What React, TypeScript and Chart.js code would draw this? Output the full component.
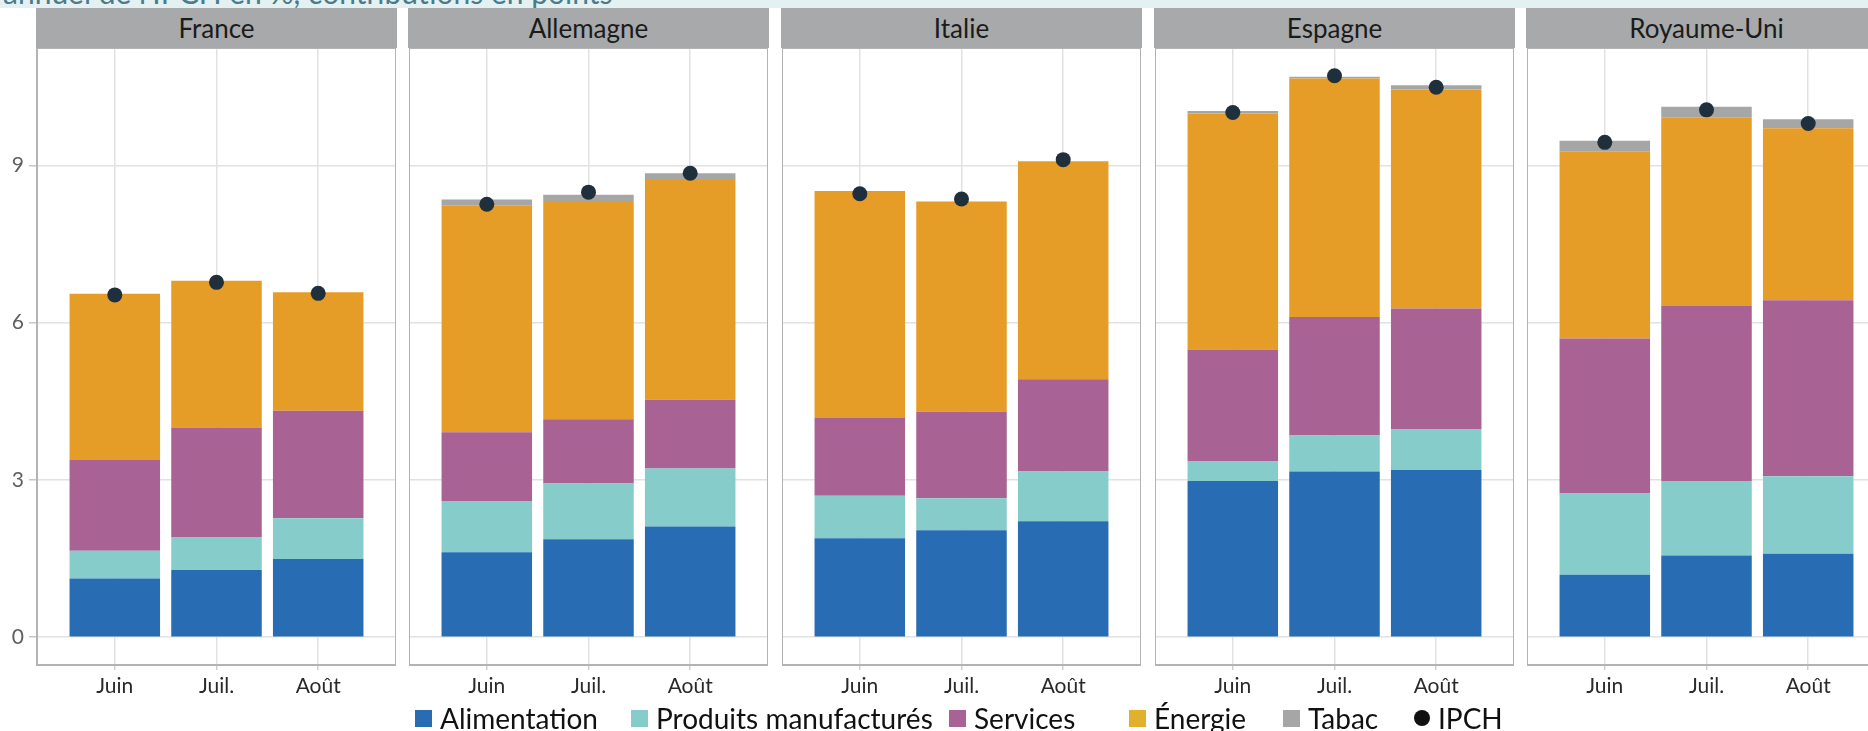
import React, { useEffect, useRef } from 'react';
import { Chart, registerables } from 'chart.js';

Chart.register(...registerables);

// ---------- Data ----------
const countries = ['France', 'Allemagne', 'Italie', 'Espagne', 'Royaume-Uni'];
const months = ['Juin', 'Juil.', 'Août'];
const yTicks = [0, 3, 6, 9];
const seriesNames = ['Alimentation', 'Produits manufacturés', 'Services', 'Énergie', 'Tabac'];
const ipchName = 'IPCH';

// contributions in points, per country (rows) and month (columns)
const alimentation = [
  [1.12, 1.28, 1.49],
  [1.62, 1.87, 2.11],
  [1.89, 2.04, 2.21],
  [2.98, 3.16, 3.19],
  [1.19, 1.56, 1.59],
];
const produits = [
  [0.53, 0.63, 0.78],
  [0.98, 1.06, 1.11],
  [0.81, 0.61, 0.95],
  [0.37, 0.69, 0.78],
  [1.55, 1.42, 1.48],
];
const services = [
  [1.73, 2.09, 2.05],
  [1.31, 1.23, 1.31],
  [1.48, 1.65, 1.76],
  [2.14, 2.26, 2.30],
  [2.96, 3.34, 3.36],
];
const energie = [
  [3.17, 2.80, 2.26],
  [4.32, 4.16, 4.19],
  [4.33, 4.01, 4.16],
  [4.50, 4.55, 4.18],
  [3.56, 3.60, 3.28],
];
const tabac = [
  [0.0, 0.0, 0.0],
  [0.12, 0.12, 0.13],
  [0.0, 0.0, 0.0],
  [0.05, 0.03, 0.08],
  [0.21, 0.20, 0.17],
];
const ipch = [
  [6.53, 6.77, 6.56],
  [8.26, 8.49, 8.85],
  [8.46, 8.36, 9.11],
  [10.01, 10.71, 10.49],
  [9.44, 10.06, 9.80],
];

// ---------- Styles / layout ----------
const seriesValues = [alimentation, produits, services, energie, tabac];
const barColors = ['#286cb4', '#86cccb', '#a96294', '#e69d28', '#a6a6a6'];
const legendColors = ['#286cb4', '#86cccb', '#a96294', '#e2b12c', '#a6a6a6'];
const ipchColor = '#1f303c';
const FONT = 'Lato, "Liberation Sans", sans-serif';

const panelLefts = [37, 409, 782, 1155, 1527];
const panelWidth = 359;
const plotTop = 48;
const plotHeight = 617;
const xAxisHeight = 45;
const yAxisWidth = 37;
const legendSquareLefts = [415, 631, 949, 1129, 1283, 1414];

const panelBorder = {
  id: 'panelBorder',
  afterDraw(chart: any) {
    const { ctx, chartArea: a } = chart;
    ctx.save();
    ctx.strokeStyle = '#b3b3b3';
    ctx.lineWidth = 2;
    ctx.strokeRect(a.left, a.top, a.right - a.left, a.bottom - a.top);
    ctx.restore();
  },
};

function Panel({ index }: { index: number }) {
  const ref = useRef<HTMLCanvasElement | null>(null);
  const first = index === 0;
  const axisW = first ? yAxisWidth : 0;
  const canvasW = panelWidth + axisW;
  const canvasH = plotHeight + xAxisHeight;

  useEffect(() => {
    if (!ref.current) return;
    const barSets = seriesNames.map((name, s) => ({
      type: 'bar' as const,
      label: name,
      data: seriesValues[s][index].map((v, k) => ({ x: k, y: v })),
      backgroundColor: barColors[s],
      borderWidth: 0,
      stack: 'contrib',
      categoryPercentage: 1,
      barPercentage: 0.89,
    }));
    const dotSet = {
      type: 'line' as const,
      label: ipchName,
      data: ipch[index].map((v, k) => ({ x: k, y: v })),
      showLine: false,
      pointRadius: 7.5,
      pointBackgroundColor: ipchColor,
      pointBorderWidth: 0,
      borderColor: ipchColor,
      stack: 'ipch',
      order: -1,
    };
    const chart = new Chart(ref.current, {
      type: 'bar',
      data: { datasets: [...barSets, dotSet] as any },
      options: {
        responsive: false,
        animation: false,
        layout: { padding: 0, autoPadding: false },
        plugins: {
          legend: { display: false },
          tooltip: { enabled: false },
          title: { display: false },
        },
        scales: {
          x: {
            type: 'linear',
            min: -0.765,
            max: 2.765,
            offset: false,
            stacked: true,
            afterBuildTicks: (s: any) => {
              s.ticks = months.map((_, k) => ({ value: k }));
            },
            afterFit: (s: any) => {
              s.height = xAxisHeight;
              s.paddingLeft = 0;
              s.paddingRight = 0;
            },
            ticks: {
              callback: (_v: any, i: number) => months[i],
              font: { family: FONT, size: 21 },
              color: '#2a2a2a',
              padding: 4,
              maxRotation: 0,
              autoSkip: false,
            },
            grid: {
              offset: false,
              color: '#e2e2e2',
              lineWidth: 1.5,
              drawTicks: true,
              tickLength: 5,
              tickColor: '#cfcfcf',
            },
            border: { display: false },
          },
          y: {
            type: 'linear',
            min: -0.53,
            max: 11.24,
            stacked: true,
            afterBuildTicks: (s: any) => {
              s.ticks = yTicks.map((v) => ({ value: v }));
            },
            afterFit: (s: any) => {
              s.width = axisW;
              s.paddingTop = 0;
              s.paddingBottom = 0;
            },
            ticks: {
              display: first,
              font: { family: FONT, size: 21 },
              color: '#606060',
              padding: 5,
            },
            grid: {
              color: '#e2e2e2',
              lineWidth: 1.5,
              drawTicks: first,
              tickLength: 8,
              tickColor: '#c8c8c8',
            },
            border: { display: false },
          },
        },
      } as any,
      plugins: [panelBorder],
    });
    return () => chart.destroy();
  }, [index]);

  const left = panelLefts[index];
  return (
    <>
      <div
        style={{
          position: 'absolute',
          left: left - 1,
          top: 8,
          width: panelWidth + 2,
          height: plotTop - 8,
          background: '#a7a9aa',
          color: '#1b1b1b',
          fontFamily: FONT,
          fontSize: 26,
          display: 'flex',
          alignItems: 'center',
          justifyContent: 'center',
          whiteSpace: 'nowrap',
        }}
      >
        {countries[index]}
      </div>
      <canvas
        ref={ref}
        width={canvasW}
        height={canvasH}
        style={{
          position: 'absolute',
          left: left - axisW,
          top: plotTop,
          width: canvasW,
          height: canvasH,
        }}
      />
    </>
  );
}

export default function App() {
  return (
    <div
      style={{
        position: 'absolute',
        left: 0,
        top: 0,
        width: 1868,
        height: 731,
        overflow: 'hidden',
        background: '#ffffff',
        fontFamily: FONT,
      }}
    >
      <div
        style={{
          position: 'absolute',
          left: 0,
          top: 0,
          width: 1868,
          height: 8,
          background: '#e3f1f2',
          overflow: 'hidden',
        }}
      >
        <span
          style={{
            position: 'absolute',
            left: 3,
            top: -23,
            fontSize: 30,
            lineHeight: '30px',
            color: '#4b7b8b',
            whiteSpace: 'nowrap',
          }}
        >
          annuel de l'IPCH en %, contributions en points
        </span>
      </div>
      {countries.map((_, i) => (
        <Panel key={i} index={i} />
      ))}
      {[...seriesNames, ipchName].map((name, i) => (
        <div
          key={name}
          style={{
            position: 'absolute',
            left: legendSquareLefts[i],
            top: 703,
            height: 30,
            display: 'flex',
            alignItems: 'center',
            whiteSpace: 'nowrap',
            fontSize: 28,
            color: '#111',
          }}
        >
          <span
            style={{
              display: 'inline-block',
              width: i === 5 ? 16 : 17,
              height: i === 5 ? 16 : 17,
              borderRadius: i === 5 ? '50%' : 0,
              background: i === 5 ? '#111111' : legendColors[i],
              marginRight: 8,
            }}
          />
          <span>{name}</span>
        </div>
      ))}
    </div>
  );
}
